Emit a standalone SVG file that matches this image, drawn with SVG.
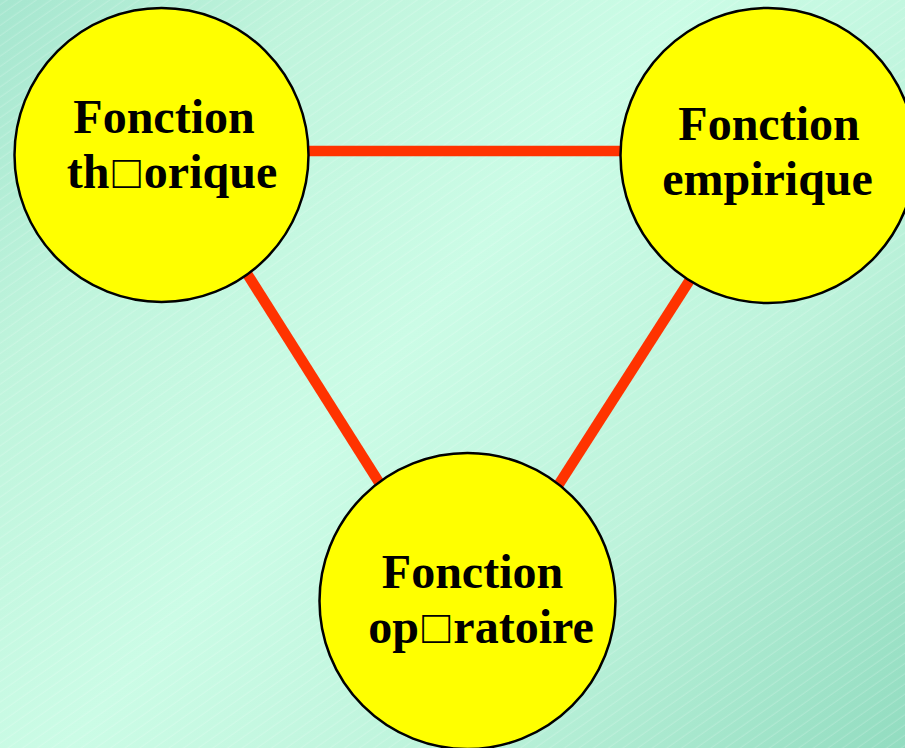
<svg xmlns="http://www.w3.org/2000/svg" width="905" height="748" viewBox="0 0 905 748">
  <defs>
    <linearGradient id="bg" x1="0" y1="0" x2="905" y2="748" gradientUnits="userSpaceOnUse">
      <stop offset="0" stop-color="#a6e6cf"/>
      <stop offset="0.2" stop-color="#bff4dc"/>
      <stop offset="0.45" stop-color="#cbfce6"/>
      <stop offset="0.7" stop-color="#bdf3db"/>
      <stop offset="1" stop-color="#92dcc0"/>
    </linearGradient>
    <pattern id="streaks" width="12" height="8.4" patternUnits="userSpaceOnUse" patternTransform="rotate(-35)">
      <line x1="0" y1="4" x2="12" y2="4" stroke="#ffffff" stroke-width="0.6" stroke-opacity="0.35"/>
    </pattern>
  </defs>
  <style>
    .link { stroke: #ff3300; stroke-width: 10.5; fill: none; }
    .node circle { fill: #ffff00; stroke: #000000; stroke-width: 2.5; }
    .node text { font-family: "Liberation Serif", "Times New Roman", serif; font-weight: bold; font-size: 48px; fill: #000000; text-anchor: middle; }
    .box { font-weight: normal; font-size: 47px; }
  </style>

  <!-- backdrop -->
  <rect width="905" height="748" fill="url(#bg)"/>
  <rect width="905" height="748" fill="url(#streaks)"/>

  <!-- connectors -->
  <g id="connectors">
    <line class="link" x1="161" y1="151" x2="768" y2="151"/>
    <line class="link" x1="172" y1="155" x2="454" y2="601"/>
    <line class="link" x1="770" y1="155" x2="484" y2="601"/>
  </g>

  <!-- nodes -->
  <g id="node-theorique" class="node">
    <circle cx="161.5" cy="155" r="147"/>
    <text x="164" y="133">Fonction</text>
    <text x="172" y="188">th<tspan class="box" dx="3">□</tspan><tspan dx="3">orique</tspan></text>
  </g>

  <g id="node-empirique" class="node">
    <circle cx="768" cy="155.5" r="147.5"/>
    <text x="769" y="140">Fonction</text>
    <text x="767.5" y="195">empirique</text>
  </g>

  <g id="node-operatoire" class="node">
    <circle cx="467.5" cy="601" r="148"/>
    <text x="472.5" y="588">Fonction</text>
    <text x="481" y="643">op<tspan class="box" dx="3">□</tspan><tspan dx="3">ratoire</tspan></text>
  </g>
</svg>
